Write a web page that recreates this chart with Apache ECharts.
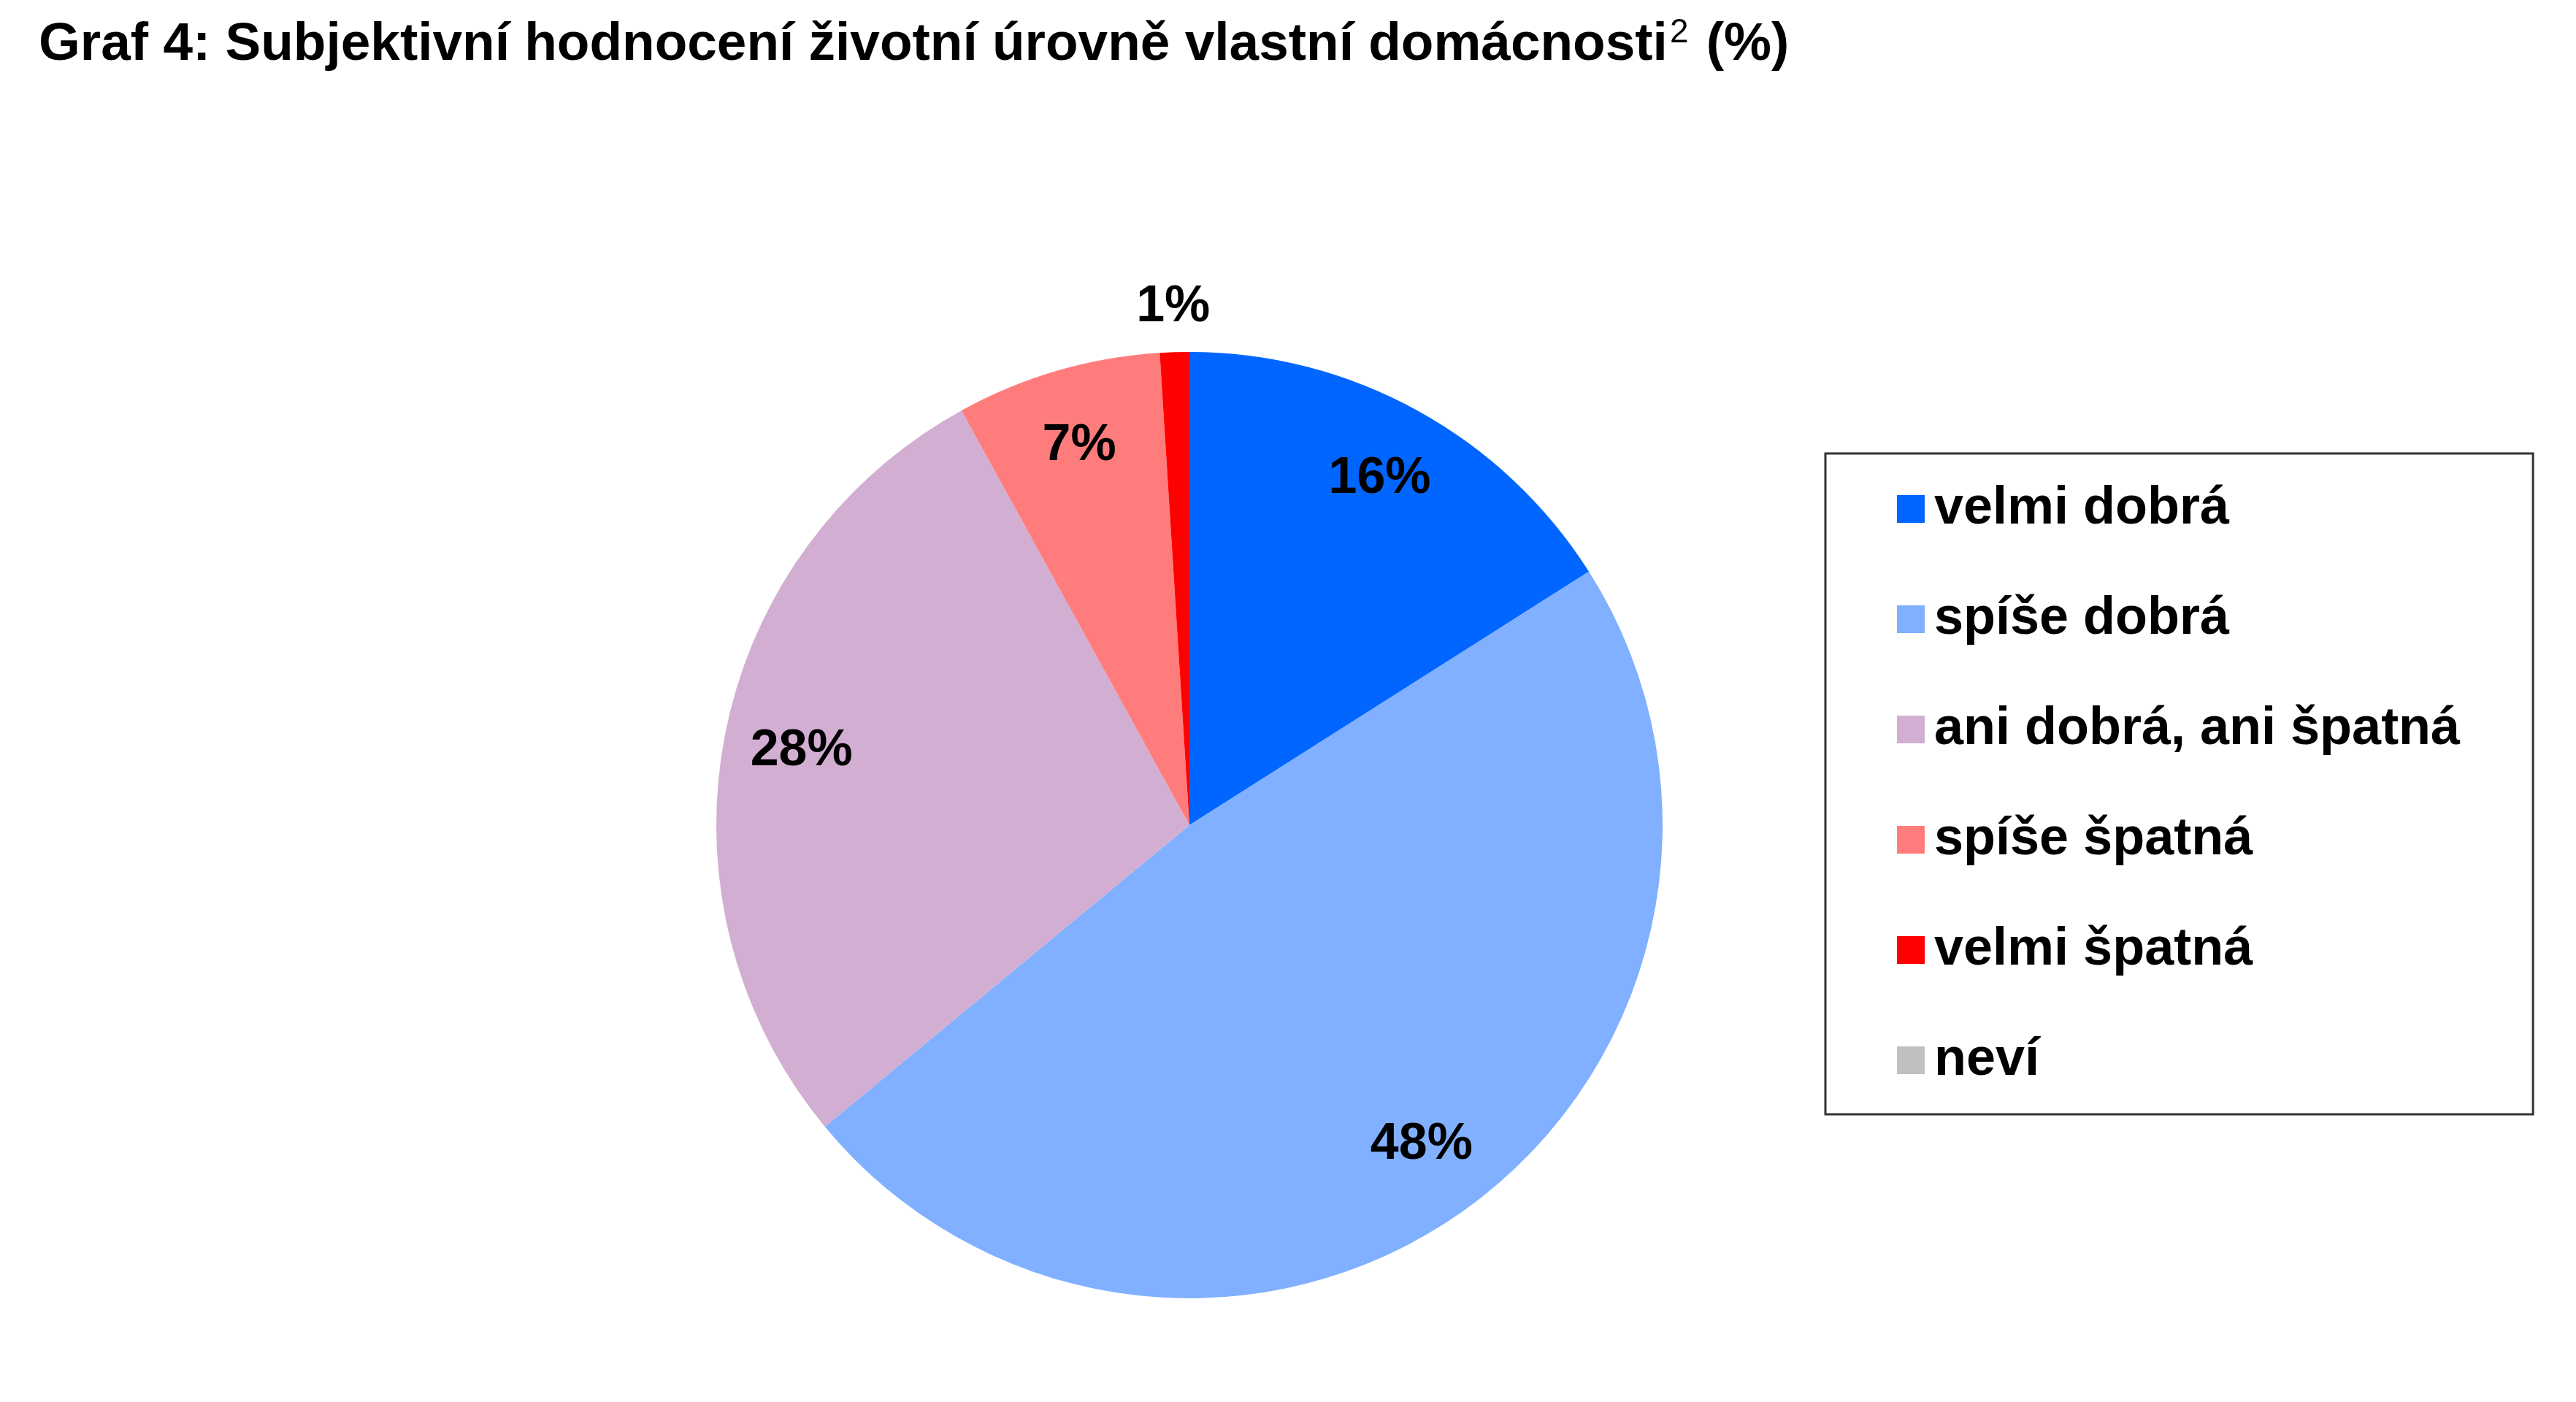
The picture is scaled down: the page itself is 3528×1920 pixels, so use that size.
<!DOCTYPE html>
<html>
<head>
<meta charset="utf-8">
<script src="https://cdn.jsdelivr.net/npm/echarts@6/dist/echarts.min.js"></script>
<style>
  html, body { margin: 0; padding: 0; background: #fff; }
  #graf { width: 3528px; height: 1920px; }
</style>
</head>
<body>
<div id="graf"></div>
<script type="text/javascript">
// hodnoty (%)
var categories = ['velmi dobrá', 'spíše dobrá', 'ani dobrá, ani špatná', 'spíše špatná', 'velmi špatná', 'neví'];
var shares = [16, 48, 28, 7, 1, 0];
var colors = ['#0066FF', '#80B0FF', '#D2AFD2', '#FF7C7C', '#FF0000', '#C0C0C0'];

var font = "'Liberation Sans', Arial, sans-serif";
var center = [1629, 1130];
var R = 648;

var pieData = categories.map(function (name, i) {
    return { name: name, value: shares[i], itemStyle: { color: colors[i] } };
});

// popisky uvnitř výseče (větší hodnoty) a nad ní (malé)
var innerLabels = categories.map(function (name, i) {
    return { name: name, value: shares[i], label: { show: shares[i] >= 2 } };
});
var outerLabels = categories.map(function (name, i) {
    return { name: name, value: shares[i], label: { show: shares[i] > 0 && shares[i] < 2 } };
});

var labelStyle = {
    position: 'inside',
    formatter: '{c}%',
    color: '#000',
    fontFamily: font,
    fontWeight: 'bold',
    fontSize: 70
};

var chart = echarts.init(document.getElementById('graf'));
var option = {
    backgroundColor: '#fff',
    animation: false,
    title: {
        left: 48,
        top: 17,
        text: '{t|Graf 4: Subjektivní hodnocení životní úrovně vlastní domácnosti}{s|2}{t| (%)}',
        textStyle: {
            rich: {
                t: { fontFamily: font, fontWeight: 'bold', fontSize: 73, lineHeight: 80, color: '#000' },
                s: { fontFamily: font, fontWeight: 'normal', fontSize: 46, lineHeight: 48, color: '#000', verticalAlign: 'top', padding: [0, 4, 0, 3] }
            }
        }
    },
    legend: {
        orient: 'vertical',
        left: 2500,
        top: 621,
        data: categories,
        selectedMode: false,
        icon: 'rect',
        itemWidth: 38,
        itemHeight: 38,
        itemGap: 79,
        padding: [40, 100, 38, 98],
        borderColor: '#333',
        borderWidth: 3,
        textStyle: {
            fontFamily: font,
            fontWeight: 'bold',
            fontSize: 72,
            lineHeight: 72,
            color: '#000',
            padding: [0, 0, 0, 8]
        }
    },
    series: [
        {
            name: 'hodnocení',
            type: 'pie',
            center: center,
            radius: R,
            startAngle: 90,
            clockwise: true,
            label: { show: false },
            labelLine: { show: false },
            silent: true,
            data: pieData
        },
        {
            name: 'popisky',
            type: 'pie',
            center: center,
            radius: [R * 0.66, R],
            startAngle: 90,
            silent: true,
            legendHoverLink: false,
            itemStyle: { color: 'rgba(0,0,0,0)' },
            label: labelStyle,
            labelLine: { show: false },
            data: innerLabels
        },
        {
            name: 'popisky2',
            type: 'pie',
            center: center,
            radius: [R, R * 1.18],
            startAngle: 90,
            silent: true,
            legendHoverLink: false,
            itemStyle: { color: 'rgba(0,0,0,0)' },
            label: labelStyle,
            labelLine: { show: false },
            data: outerLabels
        }
    ]
};
chart.setOption(option);
</script>
</body>
</html>
